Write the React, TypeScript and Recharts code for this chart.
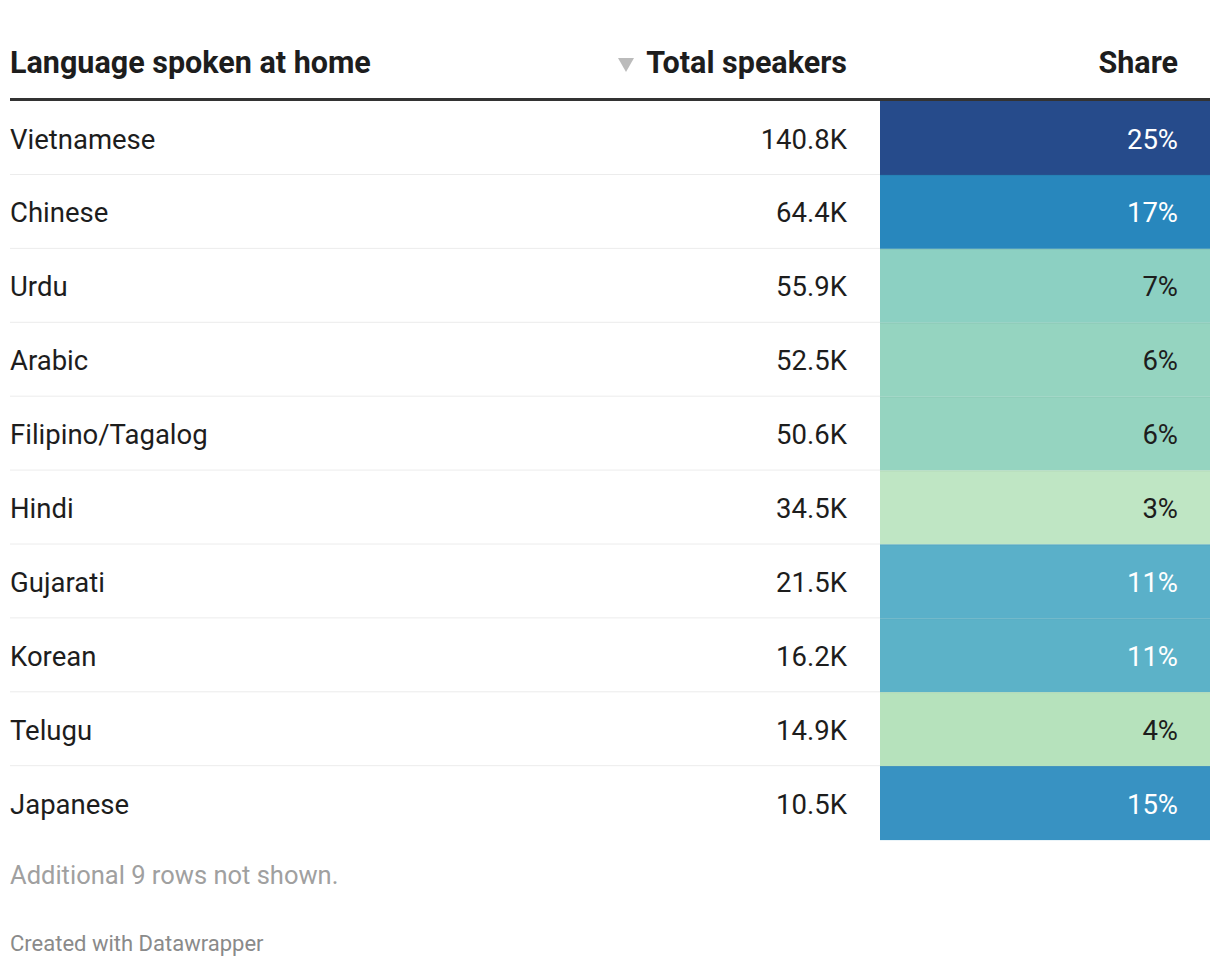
import React from "react";
import { BarChart, Bar, XAxis, YAxis } from "recharts";

const languages = [
  "Vietnamese",
  "Chinese",
  "Urdu",
  "Arabic",
  "Filipino/Tagalog",
  "Hindi",
  "Gujarati",
  "Korean",
  "Telugu",
  "Japanese",
];

// thousands of speakers
const totalSpeakers = [140.8, 64.4, 55.9, 52.5, 50.6, 34.5, 21.5, 16.2, 14.9, 10.5];

// percent
const shares = [25, 17, 7, 6, 6, 3, 11, 11, 4, 15];

const shareColors = [
  "#264b8b",
  "#2887bd",
  "#8cd0c2",
  "#95d4c0",
  "#95d4c0",
  "#bfe6c4",
  "#5ab0c9",
  "#5cb2c8",
  "#b6e2bc",
  "#3892c2",
];

const rows = languages.map((language, i) => ({
  language,
  total: totalSpeakers[i],
  share: shares[i],
}));

const FONT = "Roboto, 'Noto Sans', sans-serif";
const LEFT = 10;
const RIGHT = 1210;
const CELL_X = 880;
const TOTAL_X = 847;
const SHARE_X = 1178;
const TEXT = "#1d1d1d";
const ROW_FONT = 27.5;

const RowShape = (props: any) => {
  const { y, height, payload } = props;
  const i = languages.indexOf(payload.language);
  const mid = y + height / 2;
  const light = payload.share < 10;
  const base = mid + 10.5;
  return (
    <g>
      <rect x={CELL_X} y={y} width={RIGHT - CELL_X} height={height} fill={shareColors[i]} />
      {i > 0 && (
        <line x1={CELL_X} x2={RIGHT} y1={y + 0.5} y2={y + 0.5} stroke="rgba(0,0,0,0.05)" />
      )}
      {i < languages.length - 1 && (
        <line
          x1={LEFT}
          x2={CELL_X}
          y1={y + height - 0.5}
          y2={y + height - 0.5}
          stroke="#ececec"
        />
      )}
      <text x={LEFT} y={base} fontSize={ROW_FONT} fill={TEXT} fontFamily={FONT}>
        {payload.language}
      </text>
      <text x={TOTAL_X} y={base} fontSize={ROW_FONT} fill={TEXT} fontFamily={FONT} textAnchor="end">
        {payload.total.toFixed(1)}K
      </text>
      <text
        x={SHARE_X}
        y={base}
        fontSize={ROW_FONT}
        fill={light ? TEXT : "#ffffff"}
        fontFamily={FONT}
        textAnchor="end"
      >
        {payload.share}%
      </text>
    </g>
  );
};

export default function App() {
  return (
    <div style={{ position: "absolute", left: 0, top: 0, background: "#fff" }}>
      <BarChart
        width={1220}
        height={966}
        data={rows}
        layout="vertical"
        barCategoryGap={0}
        margin={{ top: 101, right: 10, bottom: 126, left: 10 }}
      >
        <XAxis type="number" domain={[0, 30]} hide />
        <YAxis type="category" dataKey="language" hide />
        <Bar dataKey="share" isAnimationActive={false} shape={RowShape} />

        <text x={LEFT} y={73} fontSize={30.5} fontWeight={700} fill={TEXT} fontFamily={FONT}>
          Language spoken at home
        </text>
        <polygon points="618,58 634,58 626,72" fill="#bbbbbb" />
        <text
          x={TOTAL_X}
          y={73}
          fontSize={30.5}
          fontWeight={700}
          fill={TEXT}
          fontFamily={FONT}
          textAnchor="end"
        >
          Total speakers
        </text>
        <text
          x={SHARE_X}
          y={73}
          fontSize={30.5}
          fontWeight={700}
          fill={TEXT}
          fontFamily={FONT}
          textAnchor="end"
        >
          Share
        </text>
        <rect x={LEFT} y={98} width={RIGHT - LEFT} height={3} fill="#333333" />

        <text x={LEFT} y={884} fontSize={25.5} fill="#a0a0a0" fontFamily={FONT}>
          Additional 9 rows not shown.
        </text>
        <text x={LEFT} y={951} fontSize={22} fill="#8a8a8a" fontFamily={FONT}>
          Created with Datawrapper
        </text>
      </BarChart>
    </div>
  );
}
